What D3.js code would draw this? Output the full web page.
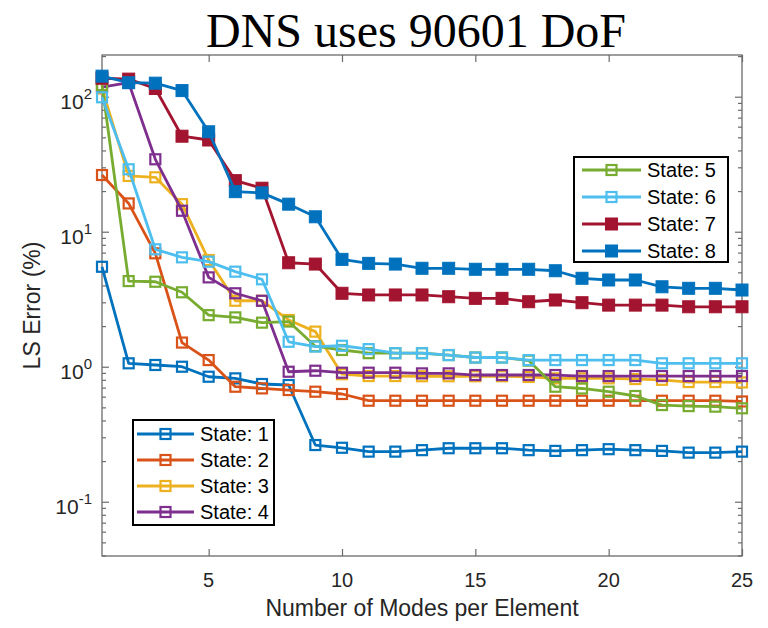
<!DOCTYPE html>
<html>
<head>
<meta charset="utf-8">
<script src="https://cdn.jsdelivr.net/npm/d3@7"></script>
<style>
  html, body { margin: 0; padding: 0; background: #fff; }
  svg { display: block; }
  text { font-family: "Liberation Sans", Arial, Helvetica, sans-serif; fill: #262626; }
</style>
</head>
<body>
<svg id="chart" width="768" height="628"></svg>
<script>
// ---------------- data ----------------
const modes = [1,2,3,4,5,6,7,8,9,10,11,12,13,14,15,16,17,18,19,20,21,22,23,24,25];
const state1 = [5.5, 1.06, 1.03, 1.0, 0.843, 0.82, 0.745, 0.732, 0.263, 0.251, 0.235, 0.235, 0.241, 0.249, 0.249, 0.249, 0.241, 0.238, 0.241, 0.245, 0.241, 0.238, 0.231, 0.231, 0.235];
const state2 = [26.3, 16.2, 6.92, 1.51, 1.12, 0.711, 0.691, 0.672, 0.653, 0.628, 0.56, 0.56, 0.56, 0.56, 0.56, 0.56, 0.56, 0.56, 0.56, 0.56, 0.56, 0.56, 0.56, 0.56, 0.553];
const state3 = [115, 25.9, 25.3, 16.0, 6.17, 3.08, 3.08, 2.22, 1.82, 0.88, 0.853, 0.853, 0.85, 0.85, 0.85, 0.85, 0.84, 0.82, 0.82, 0.82, 0.81, 0.80, 0.77, 0.77, 0.765];
const state4 = [118, 127, 34.4, 14.3, 4.59, 3.50, 3.08, 0.918, 0.934, 0.903, 0.903, 0.903, 0.893, 0.893, 0.868, 0.868, 0.868, 0.868, 0.853, 0.853, 0.853, 0.853, 0.853, 0.853, 0.853];
const state5 = [122, 4.31, 4.26, 3.56, 2.41, 2.32, 2.12, 2.16, 1.42, 1.33, 1.26, 1.26, 1.26, 1.22, 1.17, 1.17, 1.11, 0.711, 0.69, 0.653, 0.607, 0.52, 0.511, 0.506, 0.492];
const state6 = [99, 29, 7.41, 6.46, 6.0, 5.06, 4.44, 1.53, 1.41, 1.43, 1.35, 1.26, 1.26, 1.22, 1.17, 1.17, 1.12, 1.12, 1.12, 1.12, 1.12, 1.06, 1.06, 1.06, 1.06];
const state7 = [137, 135, 115, 51, 47.8, 23.9, 21, 5.89, 5.76, 3.50, 3.40, 3.40, 3.40, 3.30, 3.21, 3.21, 3.03, 3.12, 2.98, 2.86, 2.86, 2.86, 2.78, 2.78, 2.78];
const state8 = [142, 127, 126, 111, 55, 19.8, 19.4, 16.0, 12.9, 6.24, 5.83, 5.76, 5.36, 5.36, 5.27, 5.27, 5.27, 5.14, 4.52, 4.39, 4.39, 3.91, 3.81, 3.81, 3.70];
const seriesNames = ["State: 1","State: 2","State: 3","State: 4","State: 5","State: 6","State: 7","State: 8"];
const xTicks = [5, 10, 15, 20, 25];
const yTicks = [0.1, 1, 10, 100];
const yTickExps = ["-1", "0", "1", "2"];
const titleText = "DNS uses 90601 DoF";
const xLabel = "Number of Modes per Element";
const yLabel = "LS Error (%)";

// ---------------- styles ----------------
const colors = ["#0072BD","#D95319","#EDB120","#7E2F8E","#77AC30","#4DBEEE","#A2142F","#0072BD"];
const filled = [false,false,false,false,false,false,true,true];
const allSeries = [state1,state2,state3,state4,state5,state6,state7,state8];

const L = 102, R = 742, T = 55, B = 556;
const axisColor = "#6b6b6b";

const svg = d3.select("#chart");

const x = d3.scaleLinear().domain([1, 25]).range([L, R]);
const y = d3.scaleLog().domain([Math.pow(10, -1.402), Math.pow(10, 2.309)]).range([B, T]);

// minor tick values
const minorVals = [];
for (let e = -2; e <= 2; e++) {
  for (let m = 2; m <= 9; m++) {
    const v = m * Math.pow(10, e);
    if (v >= y.domain()[0] && v <= y.domain()[1]) minorVals.push(v);
  }
}

function styleAxis(g) {
  g.select(".domain").remove();
  g.selectAll("line").attr("stroke", axisColor).attr("stroke-width", 1.2);
  g.selectAll("text").remove();
}

// ticks (inward)
svg.append("g").attr("transform", `translate(0,${B})`)
  .call(d3.axisBottom(x).tickValues(xTicks).tickSize(-7)).call(styleAxis);
svg.append("g").attr("transform", `translate(0,${T})`)
  .call(d3.axisTop(x).tickValues(xTicks).tickSize(-7)).call(styleAxis);
svg.append("g").attr("transform", `translate(${L},0)`)
  .call(d3.axisLeft(y).tickValues(yTicks).tickSize(-7)).call(styleAxis);
svg.append("g").attr("transform", `translate(${R},0)`)
  .call(d3.axisRight(y).tickValues(yTicks).tickSize(-7)).call(styleAxis);
svg.append("g").attr("transform", `translate(${L},0)`)
  .call(d3.axisLeft(y).tickValues(minorVals).tickSize(-4)).call(styleAxis);
svg.append("g").attr("transform", `translate(${R},0)`)
  .call(d3.axisRight(y).tickValues(minorVals).tickSize(-4)).call(styleAxis);

// frame
svg.append("rect").attr("x", L).attr("y", T).attr("width", R - L).attr("height", B - T)
  .attr("fill", "none").attr("stroke", axisColor).attr("stroke-width", 1.3);

// x tick labels
svg.append("g").selectAll("text").data(xTicks).join("text")
  .attr("x", d => x(d)).attr("y", B + 31)
  .attr("text-anchor", "middle").attr("font-size", 20)
  .text(d => d);

// y tick labels with superscripts
const yl = svg.append("g");
yTicks.forEach((v, i) => {
  const t = yl.append("text")
    .attr("x", L - 10).attr("y", y(v) + 12)
    .attr("text-anchor", "end").attr("font-size", 21);
  t.append("tspan").text("10");
  t.append("tspan").attr("dy", -10).attr("font-size", 15).text(yTickExps[i]);
});

// axis labels
svg.append("text").attr("x", (L + R) / 2).attr("y", 616)
  .attr("text-anchor", "middle").attr("font-size", 23).text(xLabel);
svg.append("text").attr("transform", `translate(40,${(T + B) / 2}) rotate(-90)`)
  .attr("text-anchor", "middle").attr("font-size", 23).text(yLabel);

// title
svg.append("text").attr("x", 416).attr("y", 47)
  .attr("text-anchor", "middle").attr("font-size", 48)
  .style("font-family", "'Liberation Serif', 'Times New Roman', serif")
  .style("fill", "#000").text(titleText);

// series
const line = d3.line().x((d, i) => x(modes[i])).y(d => y(d));
const plot = svg.append("g");
allSeries.forEach((s, k) => {
  const g = plot.append("g");
  g.append("path").datum(s).attr("d", line)
    .attr("fill", "none").attr("stroke", colors[k]).attr("stroke-width", 2.8)
    .attr("stroke-linejoin", "round");
  const sz = filled[k] ? 12 : 10;
  g.selectAll("rect").data(s).join("rect")
    .attr("x", (d, i) => x(modes[i]) - sz / 2)
    .attr("y", d => y(d) - sz / 2)
    .attr("width", sz).attr("height", sz)
    .attr("fill", filled[k] ? colors[k] : "none")
    .attr("stroke", colors[k]).attr("stroke-width", filled[k] ? 1 : 2.2);
});

// legends
function legend(idx, box, rows, lineX0, lineX1, textX) {
  const g = svg.append("g");
  g.append("rect").attr("x", box[0]).attr("y", box[1])
    .attr("width", box[2] - box[0]).attr("height", box[3] - box[1])
    .attr("fill", "#fff").attr("stroke", "#000").attr("stroke-width", 2);
  idx.forEach((k, j) => {
    const yy = rows[j];
    const mx = (lineX0 + lineX1) / 2;
    g.append("line").attr("x1", lineX0).attr("x2", lineX1).attr("y1", yy).attr("y2", yy)
      .attr("stroke", colors[k]).attr("stroke-width", 2.8);
    const sz = filled[k] ? 12 : 10;
    g.append("rect").attr("x", mx - sz / 2).attr("y", yy - sz / 2)
      .attr("width", sz).attr("height", sz)
      .attr("fill", filled[k] ? colors[k] : "none")
      .attr("stroke", colors[k]).attr("stroke-width", filled[k] ? 1 : 2.2);
    g.append("text").attr("x", textX).attr("y", yy + 7)
      .attr("font-size", 20).style("fill", "#000").text(seriesNames[k]);
  });
}
legend([0,1,2,3], [133, 420, 274, 525], [434, 460, 486, 512], 137, 194, 200);
legend([4,5,6,7], [574, 157, 728, 262], [170, 197, 224, 251], 582, 641, 647);
</script>
</body>
</html>
